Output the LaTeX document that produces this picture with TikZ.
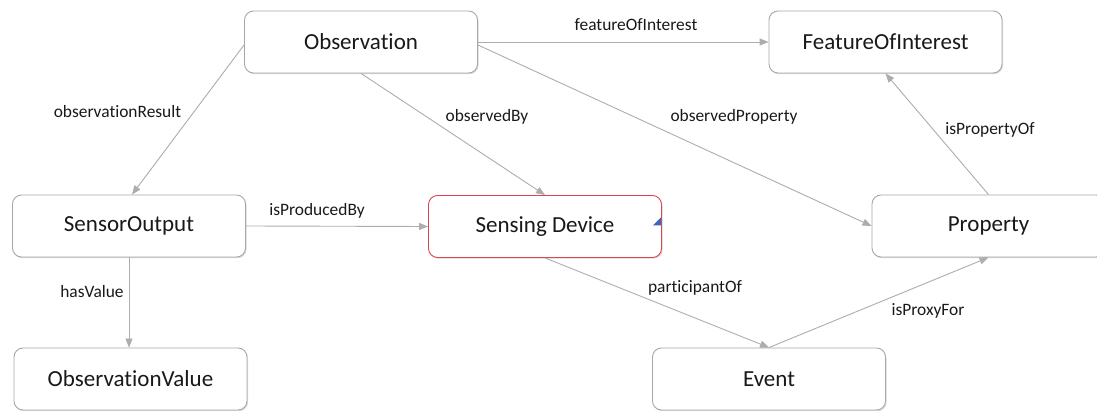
\documentclass[tikz,border=0pt]{standalone}
\usepackage{fontspec}
\setmainfont{Carlito}[Ligatures={NoCommon}]
\usetikzlibrary{arrows.meta,shadows,calc}
\definecolor{edgegray}{HTML}{ADADAD}
\definecolor{boxgray}{HTML}{A8A8A8}
\definecolor{sdred}{HTML}{D9464B}
\definecolor{markblue}{HTML}{3A66C4}
\tikzset{
  concept/.style={draw=boxgray, line width=0.9pt, rounded corners=9pt, fill=white,
    minimum width=233pt, minimum height=62pt, inner sep=0pt,
    font=\fontsize{23}{27}\selectfont, text=black!90,
    drop shadow={opacity=0.3, shadow xshift=1pt, shadow yshift=-1.2pt}},
  rel/.style={draw=edgegray, line width=0.9pt, -{Triangle[length=9pt,width=7pt]}},
  lbl/.style={font=\fontsize{17.4}{20}\selectfont, text=black!90, inner sep=0pt},
}
\begin{document}
\begin{tikzpicture}[x=1pt,y=-1pt]
\clip (0,0) rectangle (1097,411);
\fill[white] (0,0) rectangle (1097,411);

% concepts
\node[concept] (obs)  at (361,42)    {Observation};
\node[concept] (foi)  at (885.5,42)  {FeatureOfInterest};
\node[concept] (so)   at (129,226)   {SensorOutput};
\node[concept, draw=sdred] (sd) at (545,226.5) {Sensing Device};
\node[concept] (prop) at (988.5,226) {Property};
\node[concept] (ov)   at (130.5,379) {ObservationValue};
\node[concept] (ev)   at (769,379)   {Event};

% small marker on the sensing device
\fill[markblue] ($(sd.east)+(-1,-9)$) -- ($(sd.east)+(-1,-1)$) -- ($(sd.east)+(-9,-1)$) -- cycle;

% relations
\draw[rel] ($(obs.west)+(0,3)$) -- ($(so.north)+(3,0)$);
\draw[rel] (obs.south) -- (sd.north);
\draw[rel] (obs.east) -- (foi.west);
\draw[rel] ($(obs.east)+(0,3)$) -- (prop.west);
\draw[rel] (prop.north) -- (foi.south);
\draw[rel] (so.east) -- (sd.west);
\draw[rel] (so.south) -- (so.south |- ov.north);
\draw[rel] (sd.south) -- (ev.north);
\draw[rel] (ev.north) -- (prop.south);

% relation names
\node[lbl] (l-result)   at (117.5,112) {observationResult};
\node[lbl] (l-observed) at (487,117)   {observedBy};
\node[lbl] (l-feature)  at (636,25)    {featureOfInterest};
\node[lbl] (l-property) at (734,117)   {observedProperty};
\node[lbl] (l-propof)   at (990,130)   {isPropertyOf};
\node[lbl] (l-produced) at (317,211)   {isProducedBy};
\node[lbl] (l-value)    at (92,292)    {hasValue};
\node[lbl] (l-partic)   at (695,288)   {participantOf};
\node[lbl] (l-proxy)    at (928,311)   {isProxyFor};
\end{tikzpicture}
\end{document}
